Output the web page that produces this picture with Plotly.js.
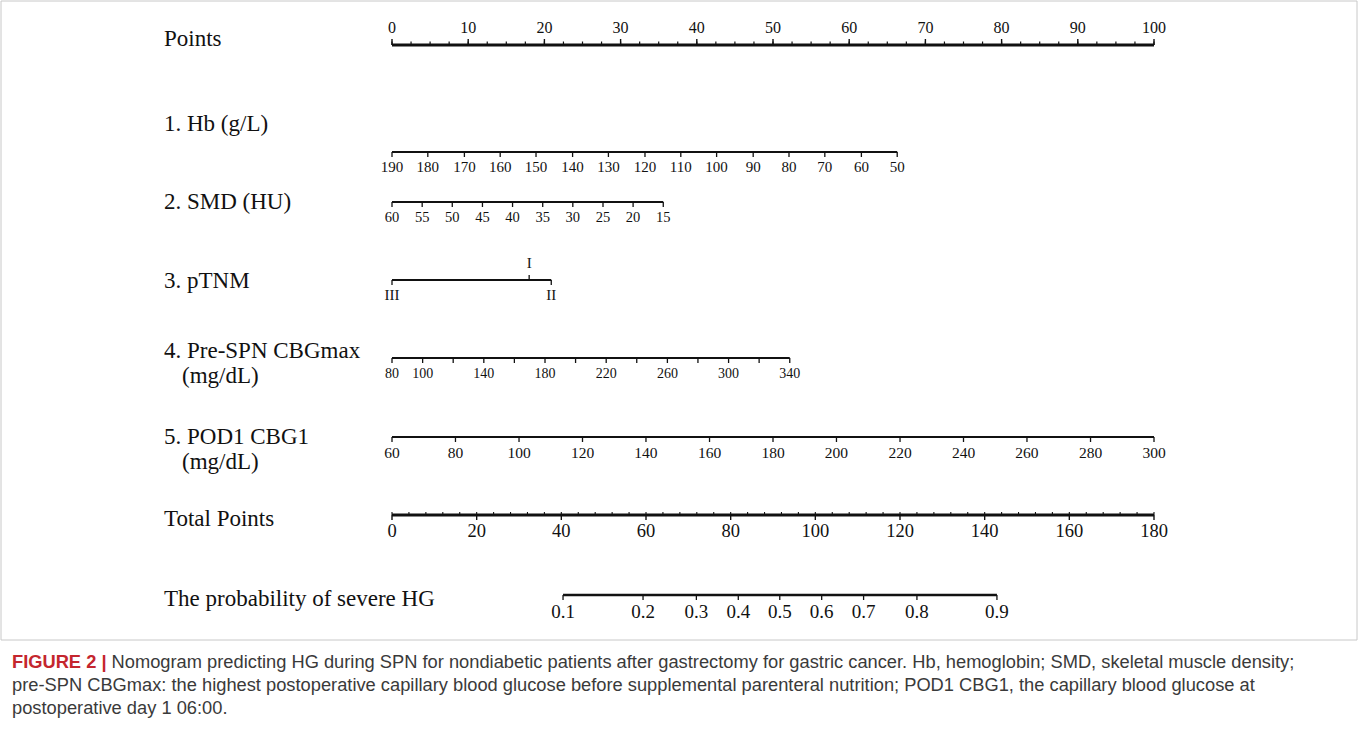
<!DOCTYPE html>
<html>
<head>
<meta charset="utf-8">
<script src="https://cdn.plot.ly/plotly-3.0.1.min.js"></script>
<style>html,body{margin:0;padding:0;background:#fff;}#chart{width:1358px;height:736px;}</style>
</head>
<body>
<div id="chart"></div>
<script>
// ---- data ----
var rowNames = ["Points", "1. Hb (g/L)", "2. SMD (HU)", "3. pTNM", "4. Pre-SPN CBGmax", "(mg/dL)", "5. POD1 CBG1", "(mg/dL)", "Total Points", "The probability of severe HG"];

var pointsLabels = [0, 10, 20, 30, 40, 50, 60, 70, 80, 90, 100];

var hbLabels = [190, 180, 170, 160, 150, 140, 130, 120, 110, 100, 90, 80, 70, 60, 50];
var hbPoints = [0, 4.7, 9.5, 14.2, 18.9, 23.7, 28.4, 33.2, 37.9, 42.6, 47.4, 52.1, 56.8, 61.6, 66.3];

var smdLabels = [60, 55, 50, 45, 40, 35, 30, 25, 20, 15];
var smdPoints = [0, 3.96, 7.91, 11.87, 15.82, 19.78, 23.73, 27.69, 31.64, 35.6];

var tnmLabels = ["III", "I", "II"];
var tnmPoints = [0, 18.0, 20.9];

var cbgmaxTicks = [80, 100, 120, 140, 160, 180, 200, 220, 240, 260, 280, 300, 320, 340];
var cbgmaxPoints = [0, 4.02, 8.03, 12.05, 16.06, 20.08, 24.09, 28.11, 32.12, 36.14, 40.15, 44.17, 48.18, 52.2];
var cbgmaxShown = [80, 100, 140, 180, 220, 260, 300, 340];

var pod1Labels = [60, 80, 100, 120, 140, 160, 180, 200, 220, 240, 260, 280, 300];
var pod1Points = [0, 8.33, 16.67, 25, 33.33, 41.67, 50, 58.33, 66.67, 75, 83.33, 91.67, 100];

var totalLabels = [0, 20, 40, 60, 80, 100, 120, 140, 160, 180];

var probLabels = ["0.1", "0.2", "0.3", "0.4", "0.5", "0.6", "0.7", "0.8", "0.9"];
var probTotal = [40.4, 59.3, 71.9, 81.8, 91.6, 101.5, 111.4, 124.0, 142.9];

// ---- layout helpers ----
var W = 1358, H = 736;
var X0 = 392, PX_PER_PT = 7.62;
var xr = [(0 - X0) / PX_PER_PT, (W - X0) / PX_PER_PT];
var xr2 = [xr[0] * 1.8, xr[1] * 1.8];
var serif = "Liberation Serif, Times New Roman, serif";
var black = "#111";

var rowY = {pts: 45, hb: 152, smd: 202, tnm: 280, cbgmax: 358, pod1: 437, total: 515, prob: 595};

var traces = [];

function axisLine(x0, x1, y, width, xa) {
  traces.push({x: [x0, x1], y: [y, y], mode: "lines", line: {color: black, width: width},
    xaxis: xa || "x", hoverinfo: "skip", showlegend: false});
}
function ticks(xs, y, len, width, xa) {
  var tx = [], ty = [];
  xs.forEach(function (v) { tx.push(v, v, null); ty.push(y, y + len, null); });
  traces.push({x: tx, y: ty, mode: "lines", line: {color: black, width: width || 1.2},
    xaxis: xa || "x", hoverinfo: "skip", showlegend: false});
}
function labels(xs, txt, y, size, xa) {
  traces.push({x: xs, y: xs.map(function () { return y; }), text: txt.map(String), mode: "text",
    textposition: "middle center", textfont: {family: serif, size: size, color: black},
    xaxis: xa || "x", hoverinfo: "skip", showlegend: false, cliponaxis: false});
}
function rowName(txt, px, y) {
  traces.push({x: [(px - X0) / PX_PER_PT], y: [y], text: [txt], mode: "text", textposition: "middle right",
    textfont: {family: serif, size: 23, color: black}, hoverinfo: "skip", showlegend: false, cliponaxis: false});
}

// Points
axisLine(0, 100, rowY.pts, 3);
var minorPts = [];
for (var p = 0; p <= 100.001; p += 2.5) minorPts.push(p);
ticks(minorPts, rowY.pts, -3.5, 1.2);
ticks(pointsLabels, rowY.pts, -6, 1.4);
labels(pointsLabels, pointsLabels, rowY.pts - 16, 16);

// Hb
axisLine(hbPoints[0], hbPoints[hbPoints.length - 1], rowY.hb, 1.8);
ticks(hbPoints, rowY.hb, 5, 1.3);
labels(hbPoints, hbLabels, rowY.hb + 16, 15);

// SMD
axisLine(smdPoints[0], smdPoints[smdPoints.length - 1], rowY.smd, 1.8);
ticks(smdPoints, rowY.smd, 5, 1.3);
labels(smdPoints, smdLabels, rowY.smd + 16, 14.5);

// pTNM
axisLine(tnmPoints[0], tnmPoints[2], rowY.tnm, 1.8);
ticks([tnmPoints[0], tnmPoints[2]], rowY.tnm, 5, 1.3);
ticks([tnmPoints[1]], rowY.tnm, -5, 1.3);
labels([tnmPoints[0], tnmPoints[2]], [tnmLabels[0], tnmLabels[2]], rowY.tnm + 16, 15);
labels([tnmPoints[1]], [tnmLabels[1]], rowY.tnm - 16, 15);

// Pre-SPN CBGmax
axisLine(cbgmaxPoints[0], cbgmaxPoints[cbgmaxPoints.length - 1], rowY.cbgmax, 1.8);
ticks(cbgmaxPoints, rowY.cbgmax, 5, 1.3);
var shownX = cbgmaxShown.map(function (v) { return cbgmaxPoints[cbgmaxTicks.indexOf(v)]; });
labels(shownX, cbgmaxShown, rowY.cbgmax + 16, 14);

// POD1 CBG1
axisLine(pod1Points[0], pod1Points[pod1Points.length - 1], rowY.pod1, 1.8);
ticks(pod1Points, rowY.pod1, 5, 1.3);
labels(pod1Points, pod1Labels, rowY.pod1 + 17, 15.5);

// Total Points
axisLine(0, 180, rowY.total, 3, "x2");
var minorTot = [];
for (var t = 0; t <= 180.001; t += 4) minorTot.push(t);
ticks(minorTot, rowY.total, -3, 1.1, "x2");
ticks(totalLabels, rowY.total, 5, 1.4, "x2");
labels(totalLabels, totalLabels, rowY.total + 17, 18.5, "x2");

// Probability
axisLine(probTotal[0], probTotal[probTotal.length - 1], rowY.prob, 2.4, "x2");
ticks(probTotal, rowY.prob, 5, 1.3, "x2");
labels(probTotal, probLabels, rowY.prob + 18, 19, "x2");

// Row names
rowName(rowNames[0], 164, 40);
rowName(rowNames[1], 164, 125);
rowName(rowNames[2], 164, 203);
rowName(rowNames[3], 164, 282);
rowName(rowNames[4], 164, 352);
rowName(rowNames[5], 182, 377);
rowName(rowNames[6], 164, 438);
rowName(rowNames[7], 182, 463);
rowName(rowNames[8], 164, 520);
rowName(rowNames[9], 164, 600);

var capFont = {family: "Liberation Sans, Arial, sans-serif", size: 18.3, color: "#3a3a3a"};
var capLines = [
  "<b><span style='color:#c4262e'>FIGURE 2 |</span></b> Nomogram predicting HG during SPN for nondiabetic patients after gastrectomy for gastric cancer. Hb, hemoglobin; SMD, skeletal muscle density;",
  "pre-SPN CBGmax: the highest postoperative capillary blood glucose before supplemental parenteral nutrition; POD1 CBG1, the capillary blood glucose at",
  "postoperative day 1 06:00."
];
var capY = [661, 684, 707];
var annotations = capLines.map(function (s, i) {
  return {xref: "paper", yref: "y", x: 10 / W, y: capY[i], text: s, showarrow: false,
    xanchor: "left", yanchor: "middle", font: capFont, align: "left"};
});

var layout = {
  width: W, height: H,
  margin: {l: 0, r: 0, t: 0, b: 0, pad: 0},
  paper_bgcolor: "#fff", plot_bgcolor: "#fff",
  showlegend: false,
  xaxis: {range: xr, domain: [0, 1], visible: false, fixedrange: true},
  xaxis2: {range: xr2, domain: [0, 1], overlaying: "x", visible: false, fixedrange: true},
  yaxis: {range: [H, 0], domain: [0, 1], visible: false, fixedrange: true},
  shapes: [{type: "rect", xref: "paper", yref: "y", x0: 1 / W, x1: 1 - 1 / W, y0: 1, y1: 640,
    line: {color: "#c8c8c8", width: 1}}],
  annotations: annotations
};

Plotly.newPlot("chart", traces, layout, {displayModeBar: false, staticPlot: true});
</script>
</body>
</html>
